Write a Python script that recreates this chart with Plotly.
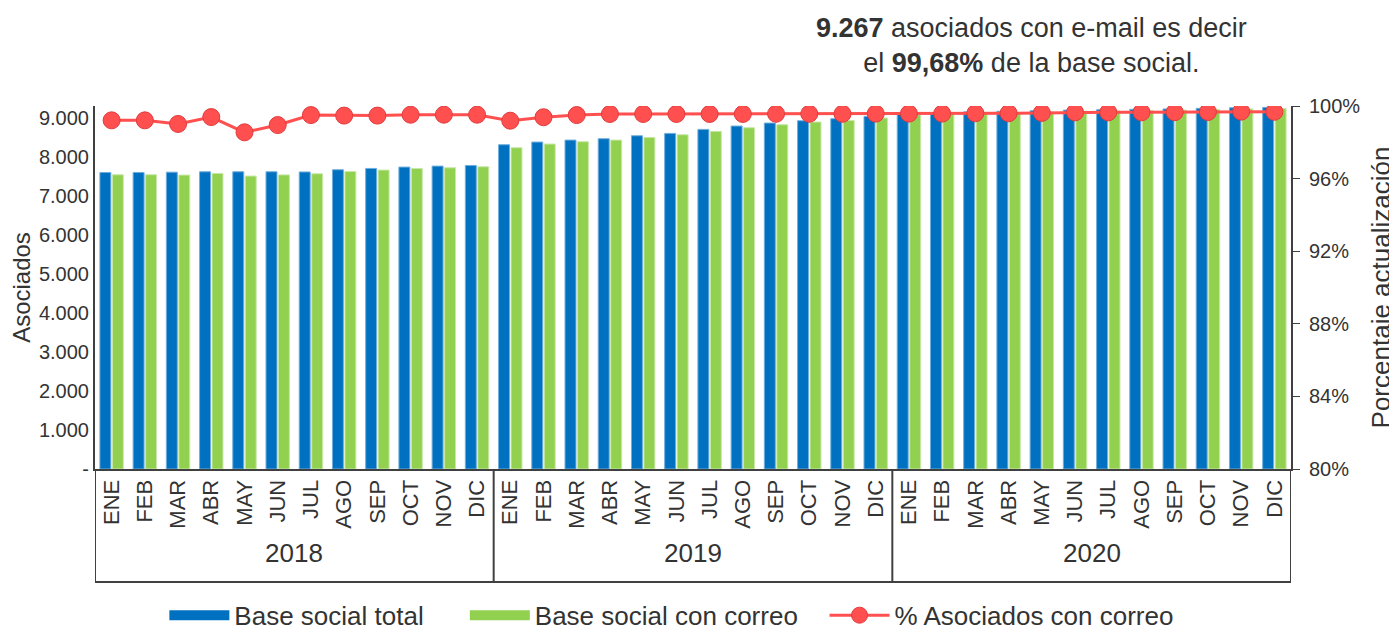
import plotly.graph_objects as go

years = ["2018", "2019", "2020"]
months = ["ENE", "FEB", "MAR", "ABR", "MAY", "JUN", "JUL", "AGO", "SEP", "OCT", "NOV", "DIC"]

base_total = [
    7597, 7597, 7605, 7615, 7615, 7615, 7610, 7667, 7700, 7735, 7760, 7777,
    8308, 8376, 8427, 8462, 8538, 8598, 8701, 8786, 8863, 8923, 8974, 9034,
    9110, 9130, 9150, 9165, 9180, 9195, 9205, 9215, 9225, 9240, 9255, 9265,
]
base_correo = [
    7538, 7540, 7530, 7573, 7505, 7535, 7564, 7623, 7658, 7700, 7718, 7743,
    8231, 8325, 8385, 8427, 8496, 8564, 8650, 8744, 8821, 8889, 8931, 8992,
    9075, 9095, 9115, 9130, 9148, 9165, 9175, 9185, 9195, 9210, 9225, 9235,
]
pct_correo = [
    99.21, 99.21, 99.01, 99.39, 98.55, 98.95, 99.50, 99.47, 99.47, 99.52, 99.52, 99.52,
    99.19, 99.38, 99.50, 99.56, 99.56, 99.56, 99.56, 99.56, 99.57, 99.57, 99.57, 99.58,
    99.58, 99.58, 99.60, 99.60, 99.62, 99.65, 99.65, 99.65, 99.66, 99.67, 99.69, 99.68,
]
left_ticks = [0, 1000, 2000, 3000, 4000, 5000, 6000, 7000, 8000, 9000]
left_ticktext = ["-", "1.000", "2.000", "3.000", "4.000", "5.000", "6.000", "7.000", "8.000", "9.000"]
right_ticks = [80, 84, 88, 92, 96, 100]
right_ticktext = ["80%", "84%", "88%", "92%", "96%", "100%"]

BLUE = "#0070C0"
GREEN = "#92D050"
RED = "#FF4F4F"
TXT = "#333333"
FONT = "Liberation Sans, Arial, sans-serif"
NB = "\u00a0"

n_m = len(months)
x = list(range(len(years) * n_m))
month_labels = months * len(years)

fig = go.Figure()
fig.add_trace(go.Bar(x=x, y=base_total, name="Base social total", marker=dict(color=BLUE, line=dict(color="#6FAEDD", width=1)), showlegend=False))
fig.add_trace(go.Bar(x=x, y=base_correo, name="Base social con correo", marker=dict(color=GREEN, line=dict(color="#C8E8A8", width=1)), showlegend=False))
fig.add_trace(go.Scatter(x=x, y=pct_correo, yaxis="y2", mode="lines+markers", name="% Asociados con correo",
                         line=dict(color=RED, width=3),
                         marker=dict(size=17, color=RED, line=dict(color="#E03C3C", width=1)), showlegend=False))

# legend entries
fig.add_trace(go.Scatter(x=[None], y=[None], mode="lines", name="Base social total" + NB * 5, line=dict(color=BLUE, width=13)))
fig.add_trace(go.Scatter(x=[None], y=[None], mode="lines", name="Base social con correo" + NB * 3, line=dict(color=GREEN, width=13)))
fig.add_trace(go.Scatter(x=[None], y=[None], mode="lines+markers", name="% Asociados con correo", yaxis="y2",
                         line=dict(color=RED, width=3), marker=dict(size=17, color=RED, line=dict(color="#E03C3C", width=1))))

# category box and year labels
box_bottom = -0.311
edges = [i * n_m - 0.5 for i in range(len(years) + 1)]
for e in edges:
    fig.add_shape(type="line", xref="x", yref="paper", x0=e, x1=e, y0=0, y1=box_bottom, line=dict(color="#404040", width=2))
fig.add_shape(type="line", xref="x", yref="paper", x0=edges[0], x1=edges[-1], y0=box_bottom, y1=box_bottom, line=dict(color="#404040", width=2))
for i, yr in enumerate(years):
    fig.add_annotation(x=i * n_m + (n_m - 1) / 2, xref="x", y=-0.231, yref="paper", text=yr, showarrow=False,
                       font=dict(size=26, color=TXT, family=FONT), yanchor="middle", xanchor="center")

fig.add_annotation(x=0.783, xref="paper", y=1.168, yref="paper", showarrow=False, align="center",
                   yanchor="middle", xanchor="center",
                   text="<b>9.267</b> asociados con e-mail es decir<br>el <b>99,68%</b> de la base social.",
                   font=dict(size=27, color=TXT, family=FONT))

fig.update_layout(
    width=1389, height=624,
    margin=dict(l=87, r=106, t=98, b=163, autoexpand=False),
    paper_bgcolor="white", plot_bgcolor="white",
    font=dict(family=FONT, color=TXT),
    barmode="group", bargap=0.25, bargroupgap=0.12,
    xaxis=dict(range=[-0.5, len(x) - 0.5], tickmode="array", tickvals=x, ticktext=month_labels, tickangle=-90,
               tickfont=dict(size=22, color=TXT), showline=True, linecolor="#404040", linewidth=2, ticks="",
               showgrid=False, zeroline=False, automargin=False),
    yaxis=dict(range=[0, 9300], tickmode="array", tickvals=left_ticks, ticktext=left_ticktext,
               tickfont=dict(size=20, color=TXT), showline=True, linecolor="#404040", linewidth=2, ticks="",
               showgrid=False, zeroline=False, automargin=False,
               title=dict(text="Asociados", font=dict(size=24, color=TXT), standoff=6)),
    yaxis2=dict(range=[80, 100], overlaying="y", side="right", tickmode="array", tickvals=right_ticks,
                ticktext=right_ticktext, ticklabelstandoff=5,
                tickfont=dict(size=20, color=TXT), showline=True, linecolor="#404040", linewidth=2, ticks="outside",
                ticklen=7, tickcolor="#404040", showgrid=False, zeroline=False, automargin=False,
                title=dict(text="Porcentaje actualización", font=dict(size=26, color=TXT), standoff=12)),
    legend=dict(orientation="h", x=0.058, xanchor="left", y=-0.403, yanchor="middle", itemwidth=60,
                font=dict(size=26, color=TXT, family=FONT), traceorder="normal"),
)

fig.write_html("out.html")
